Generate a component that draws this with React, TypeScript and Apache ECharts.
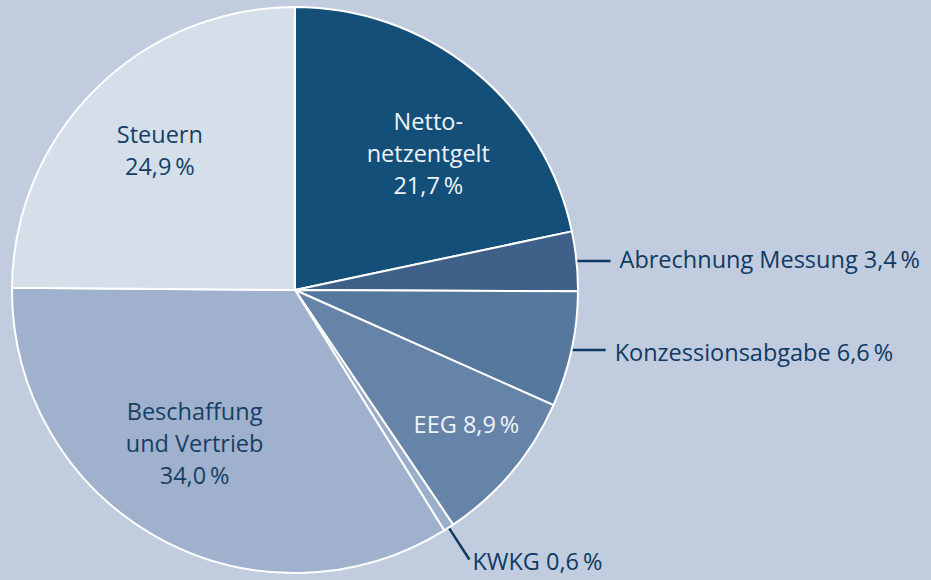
import React, { useEffect, useRef } from "react";
import * as echarts from "echarts";

const categories = [
  "Netto-\nnetzentgelt",
  "Abrechnung Messung",
  "Konzessionsabgabe",
  "EEG",
  "KWKG",
  "Beschaffung\nund Vertrieb",
  "Steuern",
];
const values = [21.7, 3.4, 6.6, 8.9, 0.6, 34.0, 24.9];
const sliceColors = ["#134f78", "#3f6189", "#56789e", "#6584a8", "#9cafca", "#9fb1cc", "#d5dfea"];
const insideLabel = [true, false, false, true, false, true, true];
const insideTextColors = ["#eef3f8", "#0f3a63", "#0f3a63", "#eef3f8", "#0f3a63", "#163f66", "#163f66"];
// label nudges [dx, dy] in px
const labelNudge = [[8, 18], [0, -2], [0, 2], [19, 6], [0, 2], [-3, -21], [5, 1]];

const fmt = (v: number) => v.toFixed(1).replace(".", ",") + "\u2009%";

export default function App() {
  const ref = useRef<HTMLDivElement>(null);
  useEffect(() => {
    document.body.style.margin = "0";
    const chart = echarts.init(ref.current!, undefined, { renderer: "svg" });
    const font = "'Open Sans', 'Noto Sans', sans-serif";
    const center = [295, 290];
    const fs = 23.5;
    const mainData = categories.map((c, i) => {
      const item: any = {
        name: c,
        value: values[i],
        itemStyle: { color: sliceColors[i] },
      };
      if (insideLabel[i]) {
        item.label = { show: false };
        item.labelLine = { show: false };
      } else {
        const isK = i === 4;
        item.label = {
          show: true,
          position: "outside",
          formatter: () => c + " " + fmt(values[i]),
          color: "#0f3a63",
          fontSize: fs,
          lineHeight: 24,
          fontFamily: font,
          distanceToLabelLine: isK ? 3 : 9,
        };
        item.labelLine = {
          show: true,
          length: isK ? 38 : 2,
          length2: isK ? 0 : 32,
          lineStyle: { color: "#0f3a63", width: 2.5 },
        };
      }
      return item;
    });
    const labelData = categories.map((c, i) => {
      const dx = labelNudge[i][0];
      return {
        name: c,
        value: values[i],
        itemStyle: { color: "rgba(0,0,0,0)", borderWidth: 0 },
        label: {
          show: insideLabel[i],
          position: "inside",
          formatter: () => (i === 3 ? c + " " + fmt(values[i]) : c + "\n" + fmt(values[i])),
          color: insideTextColors[i],
          fontSize: fs,
          lineHeight: 32,
          fontFamily: font,
          align: "center",
          padding: dx >= 0 ? [0, 0, 0, 2 * dx] : [0, -2 * dx, 0, 0],
        },
      };
    });
    chart.setOption({
      animation: false,
      backgroundColor: "#c1ccdf",
      series: [
        {
          type: "pie",
          center,
          radius: [0, 283],
          startAngle: 90,
          clockwise: true,
          silent: true,
          avoidLabelOverlap: false,
          itemStyle: { borderColor: "#ffffff", borderWidth: 2 },
          labelLayout: (p: any) => ({ dy: labelNudge[p.dataIndex][1] }),
          data: mainData,
        },
        {
          type: "pie",
          center,
          radius: [0, 392],
          startAngle: 90,
          clockwise: true,
          silent: true,
          avoidLabelOverlap: false,
          labelLine: { show: false },
          labelLayout: (p: any) => ({ dy: labelNudge[p.dataIndex][1] }),
          data: labelData,
        },
      ],
    });
    return () => chart.dispose();
  }, []);
  return <div ref={ref} style={{ width: 931, height: 580 }} />;
}
